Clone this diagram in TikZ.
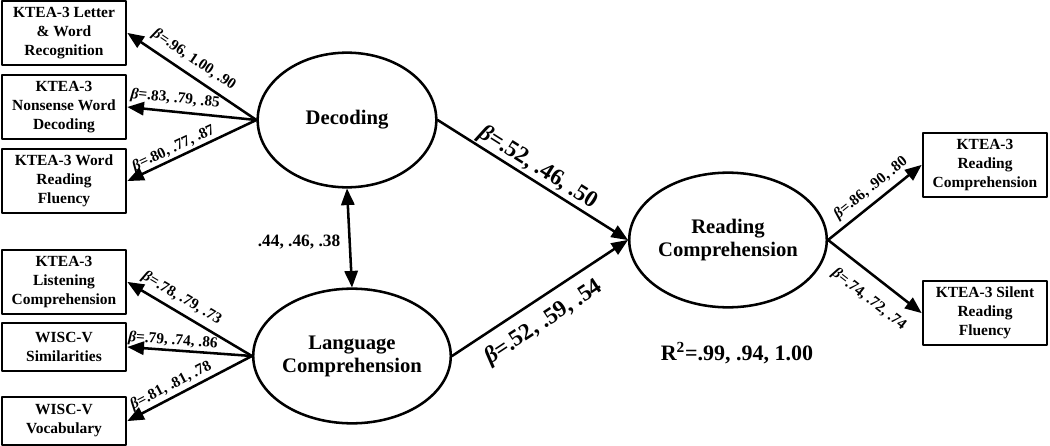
\documentclass[tikz,border=0pt]{standalone}
\usepackage{fontspec}
\setmainfont{Liberation Serif}
\usetikzlibrary{arrows}
\usetikzlibrary{shapes.geometric}
\tikzstyle{every node}=[font=\bfseries]
\tikzstyle{obs}=[draw,line width=2.2pt,minimum width=93pt,minimum height=48pt,inner sep=1pt,align=center,font=\fontsize{11.6}{14.3}\selectfont\bfseries]
\tikzstyle{latent}=[draw,ellipse,line width=1.9pt,minimum width=134pt,minimum height=101pt,inner sep=0pt,align=center,font=\fontsize{15.5}{17.3}\selectfont\bfseries]
\tikzstyle{load}=[sloped,inner xsep=0pt,font=\fontsize{11.5}{12}\selectfont\bfseries]
\tikzstyle{path}=[->,line width=1.9pt]
\newcommand{\bt}{{\itshape β}}

\begin{document}
\begin{tikzpicture}[line cap=round,line join=round,>=triangle 45,x=0.75pt,y=-0.75pt]
            \clip(0.,0.) rectangle (1050.,446.);
            \node[obs] (lwr) at (64,33) {KTEA-3 Letter\\ \& Word\\ Recognition};
            \node[obs] (nwd) at (64,107) {KTEA-3\\ Nonsense Word\\ Decoding};
            \node[obs] (wrf) at (64,181) {KTEA-3 Word\\ Reading\\ Fluency};
            \node[obs] (lc) at (64,282) {KTEA-3\\ Listening\\ Comprehension};
            \node[obs,minimum height=36pt] (sim) at (64,347) {WISC-V\\ Similarities};
            \node[obs,minimum height=36pt] (voc) at (64,421) {WISC-V\\ Vocabulary};
            \node[obs] (rcm) at (985,165) {KTEA-3\\ Reading\\ Comprehension};
            \node[obs] (srf) at (985,313) {KTEA-3 Silent\\ Reading\\ Fluency};
            \node[latent] (dec) at (347,120) {Decoding};
            \node[latent] (lang) at (352,356) {Language\\ Comprehension};
            \node[latent] (read) at (728,240) {Reading\\ Comprehension};
            % loadings
            \draw [path] (dec.west) -- node[load,above,pos=0.55,inner ysep=5pt] {\bt=.96, 1.00, .90} (lwr.east);
            \draw [path] (dec.west) -- node[load,above,pos=0.64,inner ysep=3.5pt] {\bt=.83, .79, .85} (nwd.east);
            \draw [path] (dec.west) -- node[load,above,pos=0.61,inner ysep=1pt] {\bt=.80, .77, .87} (wrf.east);
            \draw [path] (lang.west) -- node[load,above,pos=0.62,inner ysep=4pt] {\bt=.78, .79, .73} (lc.east);
            \draw [path] (lang.west) -- node[load,above,pos=0.64,inner ysep=1pt] {\bt=.79, .74, .86} (sim.east);
            \draw [path] (lang.west) -- node[load,above,pos=0.61,inner ysep=2pt] {\bt=.81, .81, .78} (voc.east);
            \draw [path] (read.east) -- node[load,above,pos=0.55,inner ysep=4pt] {\bt=.86, .90, .80} (rcm.west);
            \draw [path] (read.east) -- node[load,below,pos=0.58,inner ysep=10pt] {\bt=.74, .72, .74} (srf.west);
            % structural paths
            \draw [path] (dec.east) -- node[load,above,pos=0.49,inner ysep=1pt,font=\fontsize{17.5}{18}\selectfont\bfseries] {\bt=.52, .46, .50} (read.west);
            \draw [path] (lang.east) -- node[load,below,pos=0.45,inner ysep=8pt,font=\fontsize{17.5}{18}\selectfont\bfseries] {\bt=.52, .59, .54} (read.west);
            \draw [<->,line width=1.9pt] (dec.south) -- (lang.north);
            \node[font=\fontsize{13}{13}\selectfont\bfseries] (cor) at (299,242) {.44, .46, .38};
            \node[font=\fontsize{16.5}{17}\selectfont\bfseries] (rsq) at (737,353) {R\textsuperscript{2}=.99, .94, 1.00};
\end{tikzpicture}
\end{document}
